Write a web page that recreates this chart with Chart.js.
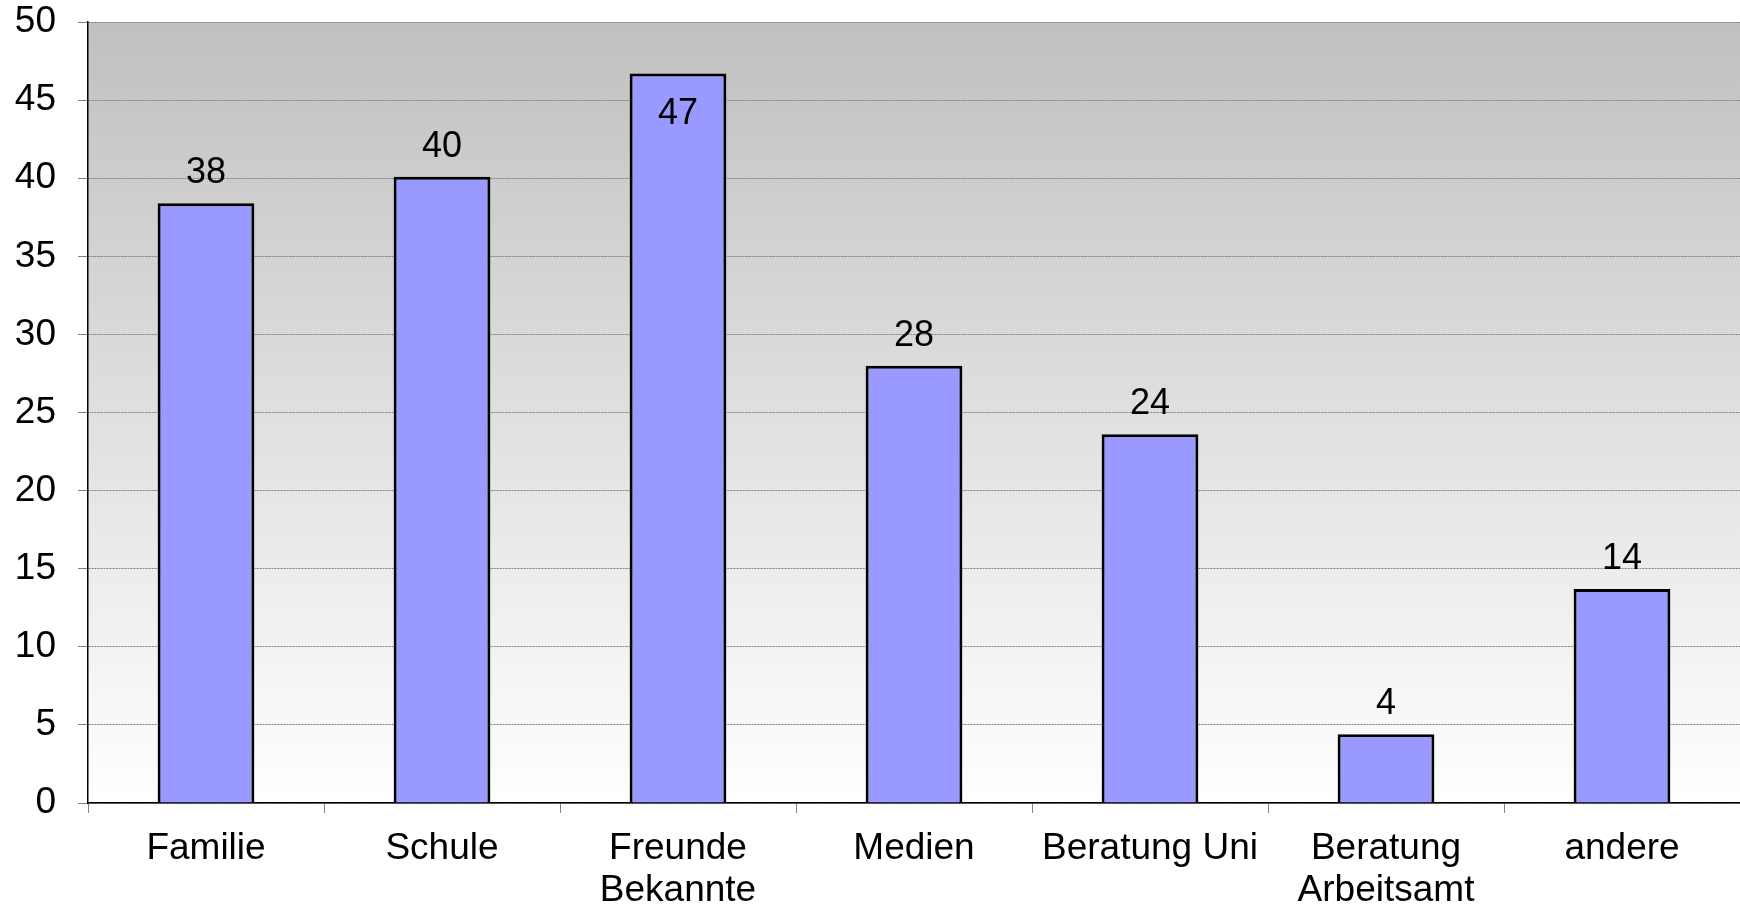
<!DOCTYPE html>
<html>
<head>
<meta charset="utf-8">
<script src="https://cdn.jsdelivr.net/npm/chart.js@4"></script>
<style>
  html, body { margin: 0; padding: 0; background: #fff; }
  #wrap { width: 1740px; height: 909px; }
</style>
</head>
<body>
<div id="wrap"><canvas id="chart"></canvas></div>
<script>
// chart data
var categories = ['Familie', 'Schule', ['Freunde', 'Bekannte'], 'Medien', 'Beratung Uni', ['Beratung', 'Arbeitsamt'], 'andere'];
var values = [38.4, 40.1, 46.7, 28.0, 23.6, 4.4, 13.7];
var yTicks = [0, 5, 10, 15, 20, 25, 30, 35, 40, 45, 50];

var FONT = '"Liberation Sans", Arial, sans-serif';

// gray-to-white plot background
var plotBackground = {
    id: 'plotBackground',
    beforeDraw: function(chart) {
        var a = chart.chartArea, ctx = chart.ctx;
        var g = ctx.createLinearGradient(0, a.top, 0, a.bottom);
        g.addColorStop(0, '#c0c0c0');
        g.addColorStop(1, '#ffffff');
        ctx.save();
        ctx.fillStyle = g;
        ctx.fillRect(a.left, a.top, a.right - a.left, a.bottom - a.top);
        ctx.restore();
    }
};

// value labels above the bars (inside when there's no room)
var valueLabels = {
    id: 'valueLabels',
    afterDatasetsDraw: function(chart) {
        var ctx = chart.ctx, a = chart.chartArea;
        var meta = chart.getDatasetMeta(0);
        ctx.save();
        ctx.font = '36px ' + FONT;
        ctx.fillStyle = '#000';
        ctx.textAlign = 'center';
        ctx.textBaseline = 'alphabetic';
        meta.data.forEach(function(bar, i) {
            var txt = String(Math.round(values[i]));
            var y = bar.y - 20;
            if (y - 27 < a.top + 10) y = bar.y + 50;
            ctx.fillText(txt, bar.x, y);
        });
        ctx.restore();
    }
};

var ctx = document.getElementById('chart').getContext('2d');
var chart = new Chart(ctx, {
    type: 'bar',
    data: {
        labels: categories,
        datasets: [{
            data: values,
            backgroundColor: '#9999ff',
            borderColor: '#000000',
            borderWidth: 3,
            categoryPercentage: 1.0,
            barPercentage: 0.41
        }]
    },
    options: {
        responsive: true,
        maintainAspectRatio: false,
        animation: false,
        layout: { padding: { top: 22, right: 0, left: 0, bottom: 0 } },
        plugins: {
            legend: { display: false },
            tooltip: { enabled: false }
        },
        scales: {
            x: {
                grid: {
                    offset: true,
                    drawOnChartArea: false,
                    tickLength: 10,
                    tickColor: '#808080',
                    tickWidth: 1
                },
                border: { color: '#000', width: 1.5 },
                ticks: {
                    color: '#000',
                    font: { family: FONT, size: 37, lineHeight: 1.14 },
                    padding: 15,
                    maxRotation: 0,
                    autoSkip: false
                },
                afterFit: function(scale) { scale.height = 106; }
            },
            y: {
                min: 0,
                max: 50,
                afterBuildTicks: function(scale) {
                    scale.ticks = yTicks.map(function(v) { return { value: v }; });
                },
                grid: {
                    color: '#808080',
                    lineWidth: 1,
                    tickLength: 10,
                    tickColor: '#808080',
                    tickWidth: 1
                },
                border: { color: '#000', width: 1.5, dash: [2, 1] },
                ticks: {
                    color: '#000',
                    font: { family: FONT, size: 37 },
                    padding: 22
                },
                afterFit: function(scale) {
                    scale.width = 88;
                    scale.paddingTop = 0;
                    scale.paddingBottom = 0;
                }
            }
        }
    },
    plugins: [plotBackground, valueLabels]
});
</script>
</body>
</html>
